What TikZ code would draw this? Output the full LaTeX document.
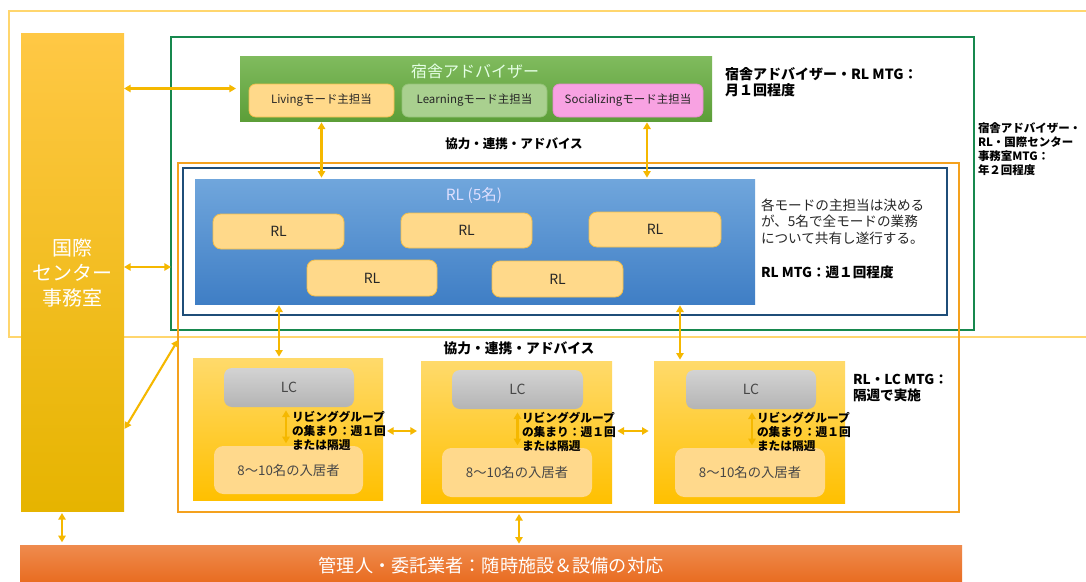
\documentclass[tikz,border=0pt]{standalone}
\usepackage{fontspec}
\setmainfont{Noto Sans CJK JP}
\usetikzlibrary{fit,calc,arrows.meta}
\definecolor{arr}{HTML}{F5B800}
\definecolor{framey}{HTML}{FFD66E}
\definecolor{frameg}{HTML}{17884E}
\definecolor{frameo}{HTML}{F4A11E}
\definecolor{frameb}{HTML}{1F4E79}
\definecolor{txt}{HTML}{262626}
\definecolor{kokT}{HTML}{FFC845}
\definecolor{kokB}{HTML}{E6B400}
\definecolor{advT}{HTML}{80BB5E}
\definecolor{advB}{HTML}{5C9E38}
\definecolor{rlT}{HTML}{70A6DC}
\definecolor{rlB}{HTML}{3F7EC5}
\definecolor{subY}{HTML}{FFD98A}
\definecolor{subYb}{HTML}{F2BE4A}
\definecolor{subG}{HTML}{A9D08F}
\definecolor{subGb}{HTML}{93C276}
\definecolor{subP}{HTML}{F8A2E2}
\definecolor{subPb}{HTML}{E88BD0}
\definecolor{grpT}{HTML}{FFDA6B}
\definecolor{grpB}{HTML}{FFC000}
\definecolor{lcT}{HTML}{D3D3D3}
\definecolor{lcB}{HTML}{B4B4B4}
\definecolor{resC}{HTML}{FFD98C}
\definecolor{barT}{HTML}{EF8B4E}
\definecolor{barB}{HTML}{E8691C}
\begin{document}
\begin{tikzpicture}[x=0.75pt,y=-0.75pt,
  every node/.style={inner sep=0pt, outer sep=0pt},
  link/.style={draw=arr, line width=1.6pt, {Triangle[length=5pt,width=5.5pt]}-{Triangle[length=5pt,width=5.5pt]}},
  frame/.style={draw=#1, line width=2pt},
  subbox/.style={rounded corners=5pt, line width=0.6pt},
  subtext/.style={text=txt, font=\fontsize{8.6}{10}\selectfont},
  rlnode/.style={rounded corners=6pt, draw=subYb, line width=0.6pt, fill=subY},
  rltext/.style={text=txt, font=\fontsize{10.5}{12}\selectfont},
  group/.style={shade, top color=grpT, bottom color=grpB},
  lcnode/.style={rounded corners=6pt, shade, top color=lcT, bottom color=lcB},
  lctext/.style={text=txt!85, font=\fontsize{10.5}{12}\selectfont},
  resnode/.style={rounded corners=7pt, fill=resC},
  restext/.style={text=txt!85, font=\fontsize{10}{12}\selectfont},
  note/.style={text=black, align=left, anchor=west, font=\bfseries\fontsize{8.8}{10.5}\selectfont},
  bnote/.style={text=black, align=left, anchor=west, font=\bfseries\fontsize{10.5}{12}\selectfont}
]
\useasboundingbox (0,0) rectangle (1086,582);
\fill[white] (0,0) rectangle (1086,582);

% outer light-yellow frame (open to the right)
\draw[framey, line width=1.6pt] (1095,11) -- (9,11) -- (9,337) -- (1095,337);

% frames
\node[fit={(171,37) (974,330)}, frame=frameg] (gframe) {};
\node[fit={(178,163) (959,512)}, frame=frameo] (oframe) {};
\node[fit={(183,168) (947,315)}, frame=frameb] (bframe) {};

% International center column
\node[fit={(21,33) (124,511)}, shade, top color=kokT, bottom color=kokB] (kok) {};
\node[text=white, align=center, font=\fontsize{15}{18.8}\selectfont] (koktext) at (72,273) {国際\\センター\\事務室};

% dorm adviser box
\node[fit={(240,56) (712,121)}, shade, top color=advT, bottom color=advB] (adv) {};
\node[text=white!90!green, font=\fontsize{12}{14}\selectfont] (advtitle) at (475,71) {宿舎アドバイザー};
\node[fit={(249,84) (394,117)}, subbox, draw=subYb, fill=subY] (liv) {};
\node[fit={(402,84) (547,117)}, subbox, draw=subGb, fill=subG] (lea) {};
\node[fit={(553,84) (703,117)}, subbox, draw=subPb, fill=subP] (soc) {};
\node[subtext] (livt) at (liv.center) {Livingモード主担当};
\node[subtext] (leat) at (lea.center) {Learningモード主担当};
\node[subtext] (soct) at (soc.center) {Socializingモード主担当};

\node[bnote] (advmtg) at (725,82) {宿舎アドバイザー・RL MTG：\\月１回程度};
\node[note, font=\bfseries\fontsize{8.6}{10.5}\selectfont] (allmtg) at (978,149) {宿舎アドバイザー・\\RL・国際センター\\事務室MTG：\\年２回程度};
\node[font=\bfseries\fontsize{9.4}{11}\selectfont] (coop1) at (514,144) {協力・連携・アドバイス};

% RL box
\node[fit={(195,179) (755,304)}, shade, top color=rlT, bottom color=rlB] (rlbox) {};
\node[text=white!88!blue, font=\fontsize{11.6}{14}\selectfont] (rltitle) at (474,195) {RL (5名)};
\node[fit={(213,214) (344,249)}, rlnode] (rl1) {};
\node[fit={(401,213) (532,248)}, rlnode] (rl2) {};
\node[fit={(589,212) (721,247)}, rlnode] (rl3) {};
\node[fit={(307,260) (437,296)}, rlnode] (rl4) {};
\node[fit={(492,261) (623,297)}, rlnode] (rl5) {};
\node[rltext] (rl1t) at (rl1.center) {RL};
\node[rltext] (rl2t) at (rl2.center) {RL};
\node[rltext] (rl3t) at (rl3.center) {RL};
\node[rltext] (rl4t) at (rl4.center) {RL};
\node[rltext] (rl5t) at (rl5.center) {RL};

\node[text=txt, align=left, anchor=west, font=\fontsize{10.2}{12.5}\selectfont] (rlnote) at (761,221.5) {各モードの主担当は決める\\が、5名で全モードの業務\\について共有し遂行する。};
\node[bnote, font=\bfseries\fontsize{10.2}{12}\selectfont] (rlmtg) at (761,272) {RL MTG：週１回程度};

\node[font=\bfseries\fontsize{10.3}{12}\selectfont] (coop2) at (519,348) {協力・連携・アドバイス};

% living groups
\node[fit={(193,358) (383,500)}, group] (g1) {};
\node[fit={(421,361) (612,503)}, group] (g2) {};
\node[fit={(654,361) (845,503)}, group] (g3) {};

\node[fit={(224,368) (354,407)}, lcnode] (lc1) {};
\node[fit={(452,370) (583,409)}, lcnode] (lc2) {};
\node[fit={(686,370) (816,409)}, lcnode] (lc3) {};
\node[lctext] (lc1t) at (lc1.center) {LC};
\node[lctext] (lc2t) at (lc2.center) {LC};
\node[lctext] (lc3t) at (lc3.center) {LC};

\node[fit={(214,446) (363,494)}, resnode] (r1) {};
\node[fit={(442,448) (592,497)}, resnode] (r2) {};
\node[fit={(675,448) (825,497)}, resnode] (r3) {};
\node[restext] (r1t) at (r1.center) {8～10名の入居者};
\node[restext] (r2t) at (r2.center) {8～10名の入居者};
\node[restext] (r3t) at (r3.center) {8～10名の入居者};

\node[note] (n1) at (292,431) {リビンググループ\\の集まり：週１回\\または隔週};
\node[note] (n2) at (522,432) {リビンググループ\\の集まり：週１回\\または隔週};
\node[note] (n3) at (757,432) {リビンググループ\\の集まり：週１回\\または隔週};

\node[bnote, font=\bfseries\fontsize{10.2}{12}\selectfont] (lcmtg) at (853,388) {RL・LC MTG：\\隔週で実施};

% bottom bar
\node[fit={(20,545) (962,586)}, shade, top color=barT, bottom color=barB] (bar) {};
\node[text=white, font=\fontsize{13.6}{16}\selectfont] (bartext) at (491,566) {管理人・委託業者：随時施設＆設備の対応};

% helper coordinates
\coordinate (ya) at (0,267);
\coordinate (sx) at (647,0);
\coordinate (x1) at (279,0);
\coordinate (x3) at (680,0);
\coordinate (gy) at (0,431);
\coordinate (dy) at (0,430);
\coordinate (ybot) at (0,340);
\coordinate (bx1) at (62,0);
\coordinate (bx2) at (519,0);

% connectors
\draw[link, shorten >=3pt] (kok.east |- adv.west) -- (adv.west);
\draw[link] (kok.east |- ya) -- (gframe.west |- ya);
\draw[link, shorten <=1pt, shorten >=1pt] (liv.south |- adv.south) -- (liv.south |- rlbox.north);
\draw[link, shorten <=1pt, shorten >=1pt] (sx |- adv.south) -- (sx |- rlbox.north);
\draw[link, shorten <=1pt, shorten >=1pt] (x1 |- rlbox.south) -- (x1 |- g1.north);
\draw[link, shorten <=1pt, shorten >=1pt] (x3 |- rlbox.south) -- (x3 |- g3.north);
\draw[link, shorten <=3pt, shorten >=3pt] (g1.east |- gy) -- (g2.west |- gy);
\draw[link, shorten <=4pt, shorten >=4pt] (g2.east |- gy) -- (g3.west |- gy);
\draw[link, shorten <=2.5pt, shorten >=2pt] ($(lc1.south)+(-3,0)$) -- ($(lc1.south |- r1.north)+(-3,0)$);
\draw[link, shorten <=2.5pt, shorten >=2pt] ($(lc2.south)+(0,0)$) -- ($(lc2.south |- r2.north)+(0,0)$);
\draw[link, shorten <=2.5pt, shorten >=2pt] ($(lc3.south)+(1,0)$) -- ($(lc3.south |- r3.north)+(1,0)$);
\draw[link, shorten <=1pt] (kok.east |- dy) -- (oframe.west |- ybot);
\draw[link, shorten <=1.5pt, shorten >=2pt] (bx1 |- kok.south) -- (bx1 |- bar.north);
\draw[link, shorten <=1.5pt, shorten >=1pt] (bx2 |- oframe.south) -- (bx2 |- bar.north);
\end{tikzpicture}
\end{document}
